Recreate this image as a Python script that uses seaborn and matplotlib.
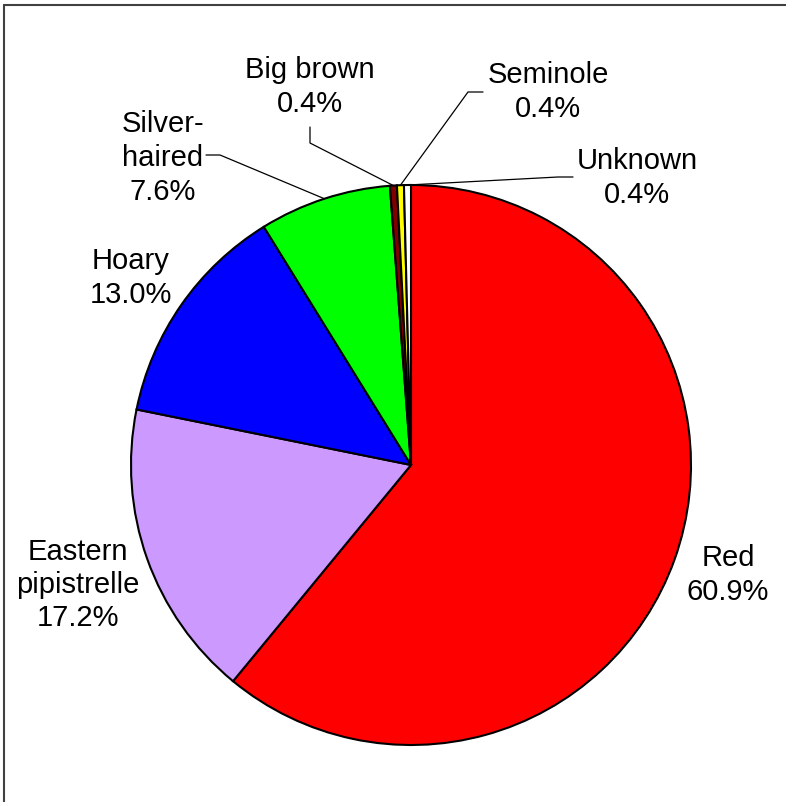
import numpy as np
import matplotlib
matplotlib.use("Agg")
import matplotlib.pyplot as plt
import seaborn as sns

sns.set_theme(style="white")
plt.rcParams["font.family"] = ["Liberation Sans", "DejaVu Sans"]

# bat species share, clockwise from 12 o'clock
species = ["Red", "Eastern\npipistrelle", "Hoary", "Silver-\nhaired", "Big brown", "Seminole", "Unknown"]
shares = [60.9, 17.2, 13.0, 7.6, 0.4, 0.4, 0.4]
colors = ["#FF0000", "#CC99FF", "#0000FF", "#00FF00", "#800000", "#FFFF00", "#FFFFFF"]

# label block centres in pixels of the 786x802 picture
label_px = [(728, 575), (78, 585), (131, 278), (163, 158), (310, 87), (548, 92), (637, 178)]
# leader line elbows (pixels), None = no leader
elbow_px = [None, None, None,
            [(206, 155), (220, 155)],
            [(310, 127), (310, 143)],
            [(483, 92), (468, 92)],
            [(573, 177), (558, 177)]]

W, H = 786, 802
CX, CY, R = 411, 465, 280


def to_data(p):
    return ((p[0] - CX) / R, (CY - p[1]) / R)


fig = plt.figure(figsize=(W / 100, H / 100), dpi=100)
ax = fig.add_axes([0, 0, 1, 1])

wedges, _ = ax.pie(shares, colors=colors, startangle=90, counterclock=False,
                   radius=1, wedgeprops=dict(edgecolor="black", linewidth=1.5))
ax.set_aspect("auto")
ax.set_xlim(-CX / R, (W - CX) / R)
ax.set_ylim(-(H - CY) / R, CY / R)
ax.axis("off")

for w, name, val, lp, el in zip(wedges, species, shares, label_px, elbow_px):
    lx, ly = to_data(lp)
    ax.text(lx, ly, f"{name}\n{val:.1f}%", ha="center", va="center",
            fontsize=21, linespacing=1.25, color="black")
    if el is not None:
        mid = np.deg2rad((w.theta1 + w.theta2) / 2)
        pts = [to_data(p) for p in el] + [(np.cos(mid), np.sin(mid))]
        ax.plot([p[0] for p in pts], [p[1] for p in pts], color="black", lw=0.9)

# chart frame, only top and left edges are inside the picture
fig.add_artist(plt.Line2D([4 / W, 4 / W], [0, 1 - 5 / H], color="#404040", lw=1.5))
fig.add_artist(plt.Line2D([4 / W, 1], [1 - 5 / H, 1 - 5 / H], color="#404040", lw=1.5))

fig.savefig("out.png", dpi=100, facecolor="white")
